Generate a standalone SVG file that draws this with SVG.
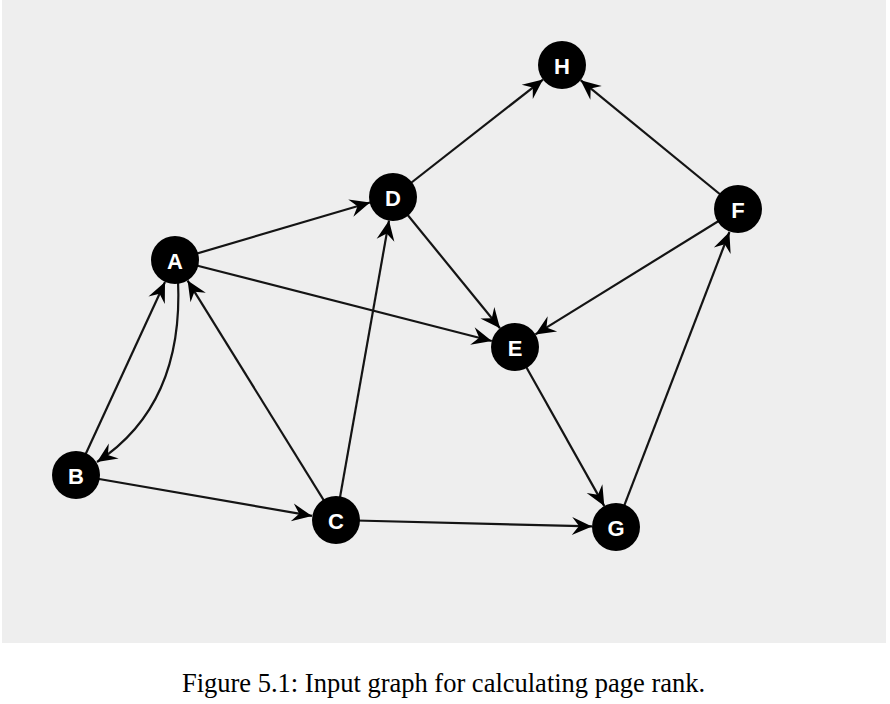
<svg xmlns="http://www.w3.org/2000/svg" width="890" height="704" viewBox="0 0 890 704">
<style>
.edge{fill:none;stroke:#141414;stroke-width:2.2;marker-end:url(#arr)}
.node circle{fill:#000}
.node text{fill:#fff;font-family:"Liberation Sans",Arial,sans-serif;font-weight:bold;font-size:22px;text-anchor:middle;dominant-baseline:central}
.cap{font-family:"Liberation Serif","Times New Roman",serif;font-size:26.5px;fill:#000;text-anchor:middle}
</style>
<defs>
<marker id="arr" markerUnits="userSpaceOnUse" viewBox="-22 -10 23 20" markerWidth="23" markerHeight="20" refX="0" refY="0" orient="auto">
<path d="M0,0 L-20,-9 L-13,0 L-20,9 Z" fill="#000"/>
</marker>
</defs>
<rect x="0" y="0" width="890" height="704" fill="#fff"/>
<rect x="2" y="0" width="884" height="643" fill="#eeeeee"/>
<g id="connectors">
<line class="edge" x1="175" y1="260" x2="370" y2="202.5"/>
<line class="edge" x1="175" y1="260" x2="491.8" y2="341"/>
<line class="edge" x1="76" y1="475" x2="165" y2="282"/>
<line class="edge" x1="336" y1="520" x2="187.6" y2="280.6"/>
<line class="edge" x1="76" y1="475" x2="312" y2="515.9"/>
<line class="edge" x1="336" y1="520" x2="389" y2="220.6"/>
<line class="edge" x1="336" y1="520" x2="592" y2="526.4"/>
<line class="edge" x1="393" y1="197" x2="543" y2="79.6"/>
<line class="edge" x1="393" y1="197" x2="500" y2="328.3"/>
<line class="edge" x1="738" y1="209" x2="580.6" y2="80.2"/>
<line class="edge" x1="738" y1="209" x2="535.4" y2="334.4"/>
<line class="edge" x1="515" y1="347" x2="604.3" y2="506.1"/>
<line class="edge" x1="616" y1="527" x2="729.4" y2="232"/>
<path class="edge" d="M178,280 Q184,405 97,462"/>
</g>
<g id="node-A" class="node"><circle cx="175" cy="260" r="24"/><text x="175" y="261">A</text></g>
<g id="node-B" class="node"><circle cx="76" cy="475" r="24"/><text x="76" y="476">B</text></g>
<g id="node-C" class="node"><circle cx="336" cy="520" r="24"/><text x="336" y="521">C</text></g>
<g id="node-D" class="node"><circle cx="393" cy="197" r="24"/><text x="393" y="198">D</text></g>
<g id="node-E" class="node"><circle cx="515" cy="347" r="24"/><text x="515" y="348">E</text></g>
<g id="node-F" class="node"><circle cx="738" cy="209" r="24"/><text x="738" y="210">F</text></g>
<g id="node-G" class="node"><circle cx="616" cy="527" r="24"/><text x="616" y="528">G</text></g>
<g id="node-H" class="node"><circle cx="562" cy="65" r="24"/><text x="562" y="66">H</text></g>
<text class="cap" x="443.5" y="692">Figure 5.1: Input graph for calculating page rank.</text>
</svg>
